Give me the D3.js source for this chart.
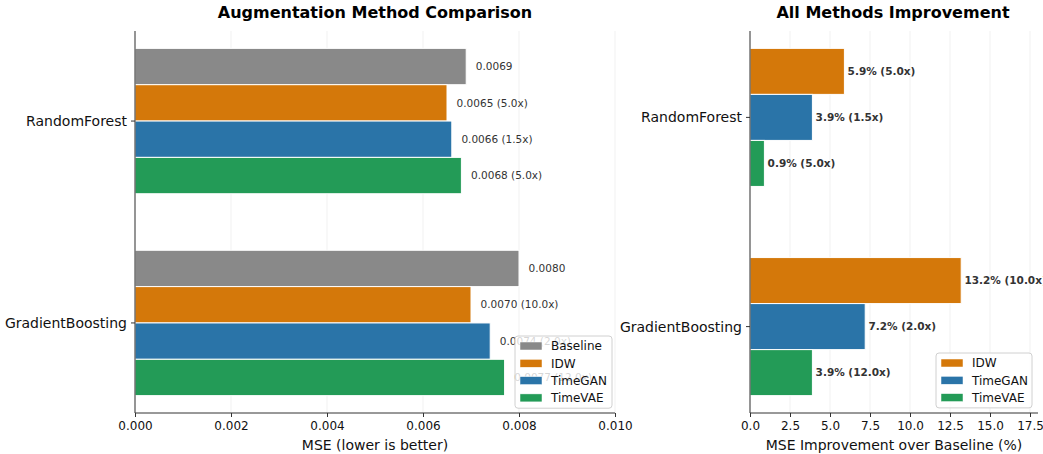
<!DOCTYPE html>
<html>
<head>
<meta charset="utf-8">
<script src="https://cdn.jsdelivr.net/npm/d3@7"></script>
<style>
  body { margin: 0; background: #fff; }
  svg { font-family: "DejaVu Sans", sans-serif; }
</style>
</head>
<body>
<svg id="chart" width="1043" height="454"></svg>
<script>
// data
const models = ['RandomForest', 'GradientBoosting']
const methods = ['Baseline', 'IDW', 'TimeGAN', 'TimeVAE']
const mseBaseline = [0.0069, 0.0080]
const mseIDW = [0.0065, 0.0070]
const mseTimeGAN = [0.0066, 0.0074]
const mseTimeVAE = [0.0068, 0.0077]
const multIDW = ['5.0x', '10.0x']
const multTimeGAN = ['1.5x', '2.0x']
const multTimeVAE = ['5.0x', '12.0x']
const impIDW = [5.9, 13.2]
const impTimeGAN = [3.9, 7.2]
const impTimeVAE = [0.9, 3.9]
const leftTicks = [0, 0.002, 0.004, 0.006, 0.008, 0.010]
const rightTicks = [0, 2.5, 5, 7.5, 10, 12.5, 15, 17.5]

const colors = {Baseline: '#898989', IDW: '#d4780a', TimeGAN: '#2a74a8', TimeVAE: '#239b57'}

const svg = d3.select('#chart')
const plotTop = 31, plotBottom = 413

function panel(opts) {
    const g = svg.append('g')
    const x = d3.scaleLinear().domain(opts.xDomain).range([opts.x0, opts.x1])
    const n = opts.series.length
    const lo = -n / 2 * opts.bw, hi = 1 + n / 2 * opts.bw
    const pad = (hi - lo) * 0.05
    const y = d3.scaleLinear().domain([lo - pad, hi + pad]).range([plotTop, plotBottom])

    // grid
    g.selectAll('.grid').data(opts.ticks).enter().append('line')
        .attr('x1', d => x(d)).attr('x2', d => x(d))
        .attr('y1', plotTop).attr('y2', plotBottom)
        .style('stroke', '#eeeeee').style('stroke-width', 0.8)

    // bars
    opts.series.forEach((s, i) => {
        const off = (i - (n - 1) / 2) * opts.bw
        models.forEach((m, j) => {
            const yc = y(j + off)
            const h = y(opts.bw) - y(0)
            g.append('rect')
                .attr('x', x(0)).attr('y', yc - h / 2)
                .attr('width', x(s.values[j]) - x(0)).attr('height', h)
                .style('fill', colors[s.name])
                .style('stroke', '#fff').style('stroke-width', 1)
        })
    })
    // value labels
    opts.series.forEach((s, i) => {
        const off = (i - (n - 1) / 2) * opts.bw
        models.forEach((m, j) => {
            g.append('text')
                .attr('x', x(s.values[j] + opts.labelOff))
                .attr('y', y(j + off))
                .attr('dy', '0.35em')
                .style('font-size', '10.5px')
                .style('font-weight', opts.bold ? 'bold' : 'normal')
                .style('fill', '#333')
                .text(opts.fmt(s, j))
        })
    })

    // axes
    const xAxis = d3.axisBottom(x).tickValues(opts.ticks).tickFormat(opts.tickFmt).tickSize(4).tickPadding(4)
    const ga = g.append('g').attr('transform', 'translate(0,' + plotBottom + ')').call(xAxis)
    ga.select('.domain').style('stroke', '#333').attr('d', 'M' + opts.x0 + ',0H' + opts.x1)
    ga.selectAll('.tick line').style('stroke', '#333')
    ga.selectAll('text').style('font-size', '12px').style('fill', '#111').style('font-family', '"DejaVu Sans", sans-serif')

    g.append('line').attr('x1', opts.x0).attr('x2', opts.x0).attr('y1', plotTop).attr('y2', plotBottom)
        .style('stroke', '#333').style('stroke-width', 1)
    models.forEach((m, j) => {
        g.append('line').attr('x1', opts.x0 - 4).attr('x2', opts.x0).attr('y1', y(j)).attr('y2', y(j))
            .style('stroke', '#333')
        g.append('text').attr('x', opts.x0 - 8).attr('y', y(j)).attr('dy', '0.35em')
            .attr('text-anchor', 'end').style('font-size', '14px').style('fill', '#111').text(m)
    })

    g.append('text').attr('x', (opts.x0 + opts.x1) / 2).attr('y', 450)
        .attr('text-anchor', 'middle').style('font-size', '14px').style('fill', '#111').text(opts.xLabel)
    g.append('text').attr('x', opts.titleX).attr('y', 18)
        .attr('text-anchor', 'middle').style('font-size', '16px').style('font-weight', 'bold').text(opts.title)

    // legend
    const step = 17.3
    const lg = g.append('g').attr('transform', 'translate(' + opts.legend[0] + ',' + opts.legend[1] + ')')
    const lh = opts.series.length * step + 3
    lg.append('rect').attr('width', opts.legendW).attr('height', lh).attr('rx', 3)
        .style('fill', '#fff').style('fill-opacity', 0.8).style('stroke', '#d0d0d0')
    opts.series.forEach((s, i) => {
        lg.append('rect').attr('x', 5).attr('y', 6 + i * step).attr('width', 22).attr('height', 8)
            .style('fill', colors[s.name]).style('stroke', '#fff').style('stroke-width', 0.5)
        lg.append('text').attr('x', 36).attr('y', 10 + i * step).attr('dy', '0.35em')
            .style('font-size', '12px').style('fill', '#111').text(s.name)
    })
}

panel({
    x0: 135, x1: 615, xDomain: [0, 0.010], ticks: leftTicks, bw: 0.18,
    tickFmt: d3.format('.3f'), labelOff: 0.0002, bold: false,
    series: [
        {name: 'Baseline', values: mseBaseline, mult: null},
        {name: 'IDW', values: mseIDW, mult: multIDW},
        {name: 'TimeGAN', values: mseTimeGAN, mult: multTimeGAN},
        {name: 'TimeVAE', values: mseTimeVAE, mult: multTimeVAE}
    ],
    fmt: (s, j) => s.values[j].toFixed(4) + (s.mult ? ' (' + s.mult[j] + ')' : ''),
    xLabel: 'MSE (lower is better)', title: 'Augmentation Method Comparison', titleX: 375,
    legend: [515, 336], legendW: 97
})

panel({
    x0: 750, x1: 1038, xDomain: [0, 18.0], ticks: rightTicks, bw: 0.22,
    tickFmt: d3.format('.1f'), labelOff: 0.2, bold: true,
    series: [
        {name: 'IDW', values: impIDW, mult: multIDW},
        {name: 'TimeGAN', values: impTimeGAN, mult: multTimeGAN},
        {name: 'TimeVAE', values: impTimeVAE, mult: multTimeVAE}
    ],
    fmt: (s, j) => s.values[j].toFixed(1) + '% (' + s.mult[j] + ')',
    xLabel: 'MSE Improvement over Baseline (%)', title: 'All Methods Improvement', titleX: 893,
    legend: [936, 353], legendW: 96
})
</script>
</body>
</html>
